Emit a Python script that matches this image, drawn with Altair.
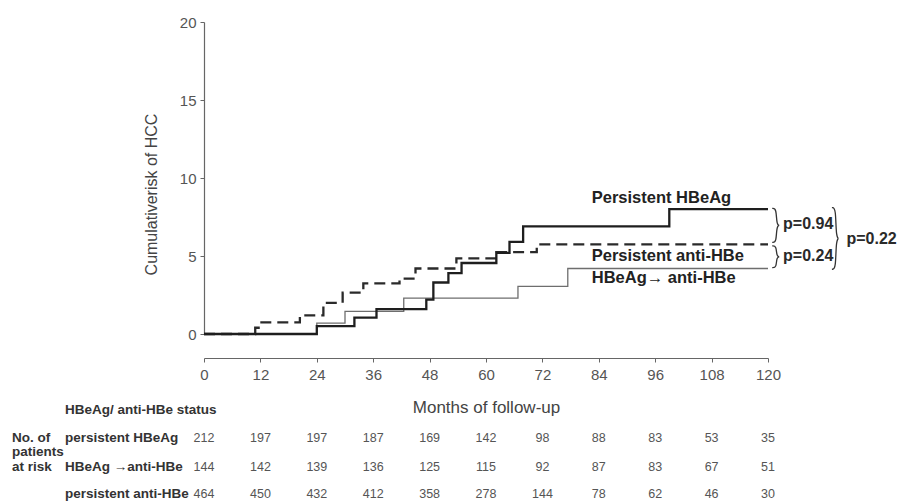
import altair as alt
import pandas as pd

FONT = "Liberation Sans"

# Follow-up axis ticks (months)
month_ticks = [0, 12, 24, 36, 48, 60, 72, 84, 96, 108, 120]

# Kaplan-Meier style cumulative risk steps (month of step, cumulative risk %)
hbeag_t = [0, 24, 32, 36.7, 47.3, 48.8, 52, 54.8, 62.2, 65, 67.9, 99, 120]
hbeag_v = [0, 0.5, 1.05, 1.6, 2.2, 3.3, 3.9, 4.55, 5.2, 5.9, 6.9, 8.0, 8.0]

conv_t = [0, 24, 30, 42.5, 66.8, 77.4, 120]
conv_v = [0, 0.7, 1.45, 2.3, 3.05, 4.2, 4.2]

anti_t = [0, 10.9, 11.9, 20.4, 25.4, 29.5, 33.9, 41.6, 45, 53.7, 62.2, 70.8, 120]
anti_v = [0, 0.4, 0.75, 1.2, 2.0, 2.65, 3.25, 3.55, 4.2, 4.85, 5.25, 5.75, 5.75]

# Numbers at risk at each tick
risk_hbeag = [212, 197, 197, 187, 169, 142, 98, 88, 83, 53, 35]
risk_conv = [144, 142, 139, 136, 125, 115, 92, 87, 83, 67, 51]
risk_anti = [464, 450, 432, 412, 358, 278, 144, 78, 62, 46, 30]

curve_labels = ["Persistent HBeAg", "Persistent anti-HBe", "HBeAg\u2192 anti-HBe"]
row_labels = ["persistent HBeAg", "HBeAg \u2192anti-HBe", "persistent anti-HBe"]
p_labels = ["p=0.94", "p=0.24", "p=0.22"]

W, H = 564, 312
PAD_L, PAD_T = 204, 22

x_enc = alt.X(
    "month:Q",
    scale=alt.Scale(domain=[0, 120], nice=False, zero=False),
    axis=alt.Axis(
        values=month_ticks, offset=24, tickSize=4, labelPadding=5,
        labelFlush=False,
        title="Months of follow-up", titlePadding=17, titleFontSize=17,
        labelFontSize=15, grid=False,
    ),
)
y_enc = alt.Y(
    "risk:Q",
    scale=alt.Scale(domain=[0, 20], nice=False),
    axis=alt.Axis(
        values=[0, 5, 10, 15, 20], tickSize=4, labelPadding=4,
        title="Cumulativerisk of HCC", titlePadding=20, titleFontSize=16,
        titleY=172, labelFontSize=15, grid=False,
    ),
)


def steps(t, v):
    return pd.DataFrame({"month": t, "risk": v})


line_hbeag = alt.Chart(steps(hbeag_t, hbeag_v)).mark_line(
    interpolate="step-after", color="#1e1e1e", strokeWidth=2.3
).encode(x=x_enc, y=y_enc)

line_conv = alt.Chart(steps(conv_t, conv_v)).mark_line(
    interpolate="step-after", color="#6e6e6e", strokeWidth=1.3
).encode(x=x_enc, y=y_enc)

line_anti = alt.Chart(steps(anti_t, anti_v)).mark_line(
    interpolate="step-after", color="#2a2a2a", strokeWidth=2.3, strokeDash=[11, 6]
).encode(x=x_enc, y=y_enc)

# Curve names, placed to the right of the curves
names_df = pd.DataFrame({
    "month": [82.5, 82.5, 82.5],
    "risk": [8.72, 5.0, 3.6],
    "label": curve_labels,
})
names = alt.Chart(names_df).mark_text(
    align="left", baseline="middle", font=FONT, fontSize=16.5,
    fontWeight="bold", color="#222"
).encode(x=x_enc, y=y_enc, text="label:N")


# Braces joining the curve end values, with their p-values
def brace(bid, x0, top, bottom, w):
    mid = (top + bottom) / 2
    xs = [x0, x0 + w / 2, x0 + w / 2, x0 + w, x0 + w / 2, x0 + w / 2, x0]
    ys = [top, top, mid, mid, mid, bottom, bottom]
    return pd.DataFrame({"month": xs, "risk": ys, "order": range(7), "brace": bid})


end_hbeag, end_anti, end_conv = hbeag_v[-1], anti_v[-1], conv_v[-1]
braces_df = pd.concat([
    brace("a", 120.9, end_hbeag + 0.05, end_anti + 0.12, 1.8),
    brace("b", 120.9, end_anti - 0.1, end_conv + 0.05, 1.8),
    brace("c", 133.6, end_hbeag + 0.1, end_conv - 0.05, 1.7),
])
braces = alt.Chart(braces_df).mark_line(
    interpolate="basis", color="#333", strokeWidth=1.3
).encode(x=x_enc, y=y_enc, detail="brace:N", order="order:Q")

p_df = pd.DataFrame({
    "month": [123.2, 123.2, 136.7],
    "risk": [
        (end_hbeag + end_anti) / 2 + 0.15,
        (end_anti + end_conv) / 2,
        (end_hbeag + end_conv) / 2,
    ],
    "label": p_labels,
})
p_text = alt.Chart(p_df).mark_text(
    align="left", baseline="middle", font=FONT, fontSize=16,
    fontWeight="bold", color="#2a2a2a"
).encode(x=x_enc, y=y_enc, text="label:N")

# Numbers-at-risk table beneath the axis
row_y = [437.5 - PAD_T, 467 - PAD_T, 494 - PAD_T]
table_layers = []
for counts, ry, lab in zip([risk_hbeag, risk_conv, risk_anti], row_y, row_labels):
    df = pd.DataFrame({"month": month_ticks, "n": counts})
    table_layers.append(
        alt.Chart(df).mark_text(
            align="center", baseline="middle", font=FONT, fontSize=12.5, color="#555"
        ).encode(x=x_enc, y=alt.value(ry), text="n:Q")
    )
    table_layers.append(
        alt.Chart(pd.DataFrame({"t": [lab]})).mark_text(
            align="left", baseline="middle", font=FONT, fontSize=13.5,
            fontWeight="bold", color="#333"
        ).encode(x=alt.value(65 - PAD_L), y=alt.value(ry), text="t:N")
    )

side_text = [
    ("HBeAg/ anti-HBe status", 65, 410),
    ("No. of", 12, 437.5),
    ("patients", 12, 452),
    ("at risk", 12, 467),
]
for txt, px, py in side_text:
    table_layers.append(
        alt.Chart(pd.DataFrame({"t": [txt]})).mark_text(
            align="left", baseline="middle", font=FONT, fontSize=13.5,
            fontWeight="bold", color="#333"
        ).encode(x=alt.value(px - PAD_L), y=alt.value(py - PAD_T), text="t:N")
    )

chart = alt.layer(
    line_conv, line_anti, line_hbeag, names, braces, p_text, *table_layers
).properties(
    width=W, height=H,
    autosize=alt.AutoSizeParams(type="none"),
    padding={"left": PAD_L, "top": PAD_T, "right": 901 - PAD_L - W, "bottom": 504 - PAD_T - H},
    background="white",
).configure_view(stroke=None).configure_axis(
    labelFont=FONT, titleFont=FONT, labelColor="#555", titleColor="#444",
    titleFontWeight="normal", domainColor="#666", tickColor="#666",
    domainWidth=1.2,
)

chart.save("out.html", embed_options={"renderer": "svg", "actions": False})
